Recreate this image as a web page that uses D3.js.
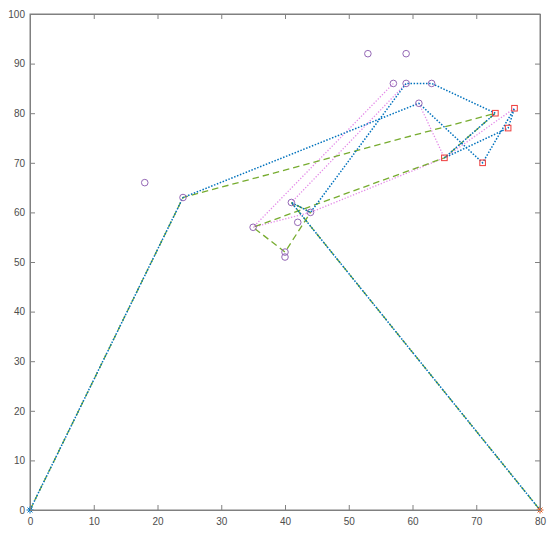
<!DOCTYPE html>
<html><head><meta charset="utf-8">
<script src="https://cdn.jsdelivr.net/npm/d3@7"></script>
<style>body{margin:0;background:#fff}svg{display:block}</style>
</head><body>
<script>
// ---- data ----
const xTicks = [0,10,20,30,40,50,60,70,80];
const yTicks = [0,10,20,30,40,50,60,70,80,90,100];
// pickup / customer points (circles)
const circleX = [18,24,53,59,57,59,63,61,41,44,35,42,40,40];
const circleY = [66,63,92,92,86,86,86,82,62,60,57,58,52,51];
// delivery points (squares)
const squareX = [73,76,75,65,71];
const squareY = [80,81,77,71,70];
// start / end depots (stars)
const startDepot = [0,0];
const endDepot = [80,0];
// routes
const blueX = [0,24,61,71,76,75,65,73,63,59,44,41,80];
const blueY = [0,63,82,70,81,77,71,80,86,86,60,62,0];
const greenX = [0,24,73,65,35,40,44,41,80];
const greenY = [0,63,80,71,57,52,60,62,0];
const pinkAX = [59,41];
const pinkAY = [86,62];
const pinkBX = [57,35,44,65,76];
const pinkBY = [86,57,60,71,81];
const pinkCX = [61,65];
const pinkCY = [82,71];

// ---- layout ----
const W=550,H=533;
const L=30,R=540,T=14,B=510;
const svg=d3.select("body").append("svg").attr("width",W).attr("height",H);
const x=d3.scaleLinear().domain([0,80]).range([L,R]);
const y=d3.scaleLinear().domain([0,100]).range([B,T]);
const axisCol="#808080", textCol="#4d4d4d";

const g=svg.append("g");
g.append("rect").attr("x",L).attr("y",T).attr("width",R-L).attr("height",B-T)
 .attr("fill","none").attr("stroke",axisCol).attr("stroke-width",1);

const font='"Liberation Sans", Arial, sans-serif';
const xb=svg.append("g").attr("transform",`translate(0,${B})`)
 .call(d3.axisBottom(x).tickValues(xTicks).tickSize(-5).tickPadding(8));
const xt=svg.append("g").attr("transform",`translate(0,${T})`)
 .call(d3.axisTop(x).tickValues(xTicks).tickSize(-5).tickFormat(""));
const yl=svg.append("g").attr("transform",`translate(${L},0)`)
 .call(d3.axisLeft(y).tickValues(yTicks).tickSize(-5).tickPadding(5));
const yr=svg.append("g").attr("transform",`translate(${R},0)`)
 .call(d3.axisRight(y).tickValues(yTicks).tickSize(-5).tickFormat(""));
[xb,xt,yl,yr].forEach(a=>{
  a.select(".domain").attr("stroke",axisCol);
  a.selectAll(".tick line").attr("stroke",axisCol);
  a.selectAll("text").attr("fill",textCol).style("font-family",font).style("font-size","10px");
});

const line=d3.line().x(d=>x(d[0])).y(d=>y(d[1]));
function drawRoute(xs,ys,col,dash,w){
  g.append("path").datum(xs.map((v,i)=>[v,ys[i]])).attr("d",line)
   .attr("fill","none").attr("stroke",col).attr("stroke-width",w)
   .attr("stroke-dasharray",dash);
}
const pink="#e48be8";
drawRoute(pinkAX,pinkAY,pink,"1.3,1.7",1.3);
drawRoute(pinkBX,pinkBY,pink,"1.3,1.7",1.3);
drawRoute(pinkCX,pinkCY,pink,"1.3,1.7",1.3);
drawRoute(greenX,greenY,"#77ac30","6.5,4",1.3);
drawRoute(blueX,blueY,"#0072bd","1.5,1.6",1.5);

// markers
g.selectAll(".c").data(circleX.map((v,i)=>[v,circleY[i]])).enter().append("circle")
 .attr("cx",d=>x(d[0])).attr("cy",d=>y(d[1])).attr("r",3.3)
 .attr("fill","none").attr("stroke","#9467b5").attr("stroke-width",1);
g.selectAll(".s").data(squareX.map((v,i)=>[v,squareY[i]])).enter().append("rect")
 .attr("x",d=>x(d[0])-2.8).attr("y",d=>y(d[1])-2.8).attr("width",5.6).attr("height",5.6)
 .attr("fill","none").attr("stroke","#ee3b3b").attr("stroke-width",1);
function star(p,col){
  const cx=x(p[0]),cy=y(p[1]),r=3.5,d=r*0.7;
  const s=g.append("g").attr("stroke",col).attr("stroke-width",1);
  s.append("line").attr("x1",cx-r).attr("x2",cx+r).attr("y1",cy).attr("y2",cy);
  s.append("line").attr("x1",cx).attr("x2",cx).attr("y1",cy-r).attr("y2",cy+r);
  s.append("line").attr("x1",cx-d).attr("x2",cx+d).attr("y1",cy-d).attr("y2",cy+d);
  s.append("line").attr("x1",cx-d).attr("x2",cx+d).attr("y1",cy+d).attr("y2",cy-d);
}
star(startDepot,"#0072bd");
star(endDepot,"#d95319");
</script>
</body></html>
